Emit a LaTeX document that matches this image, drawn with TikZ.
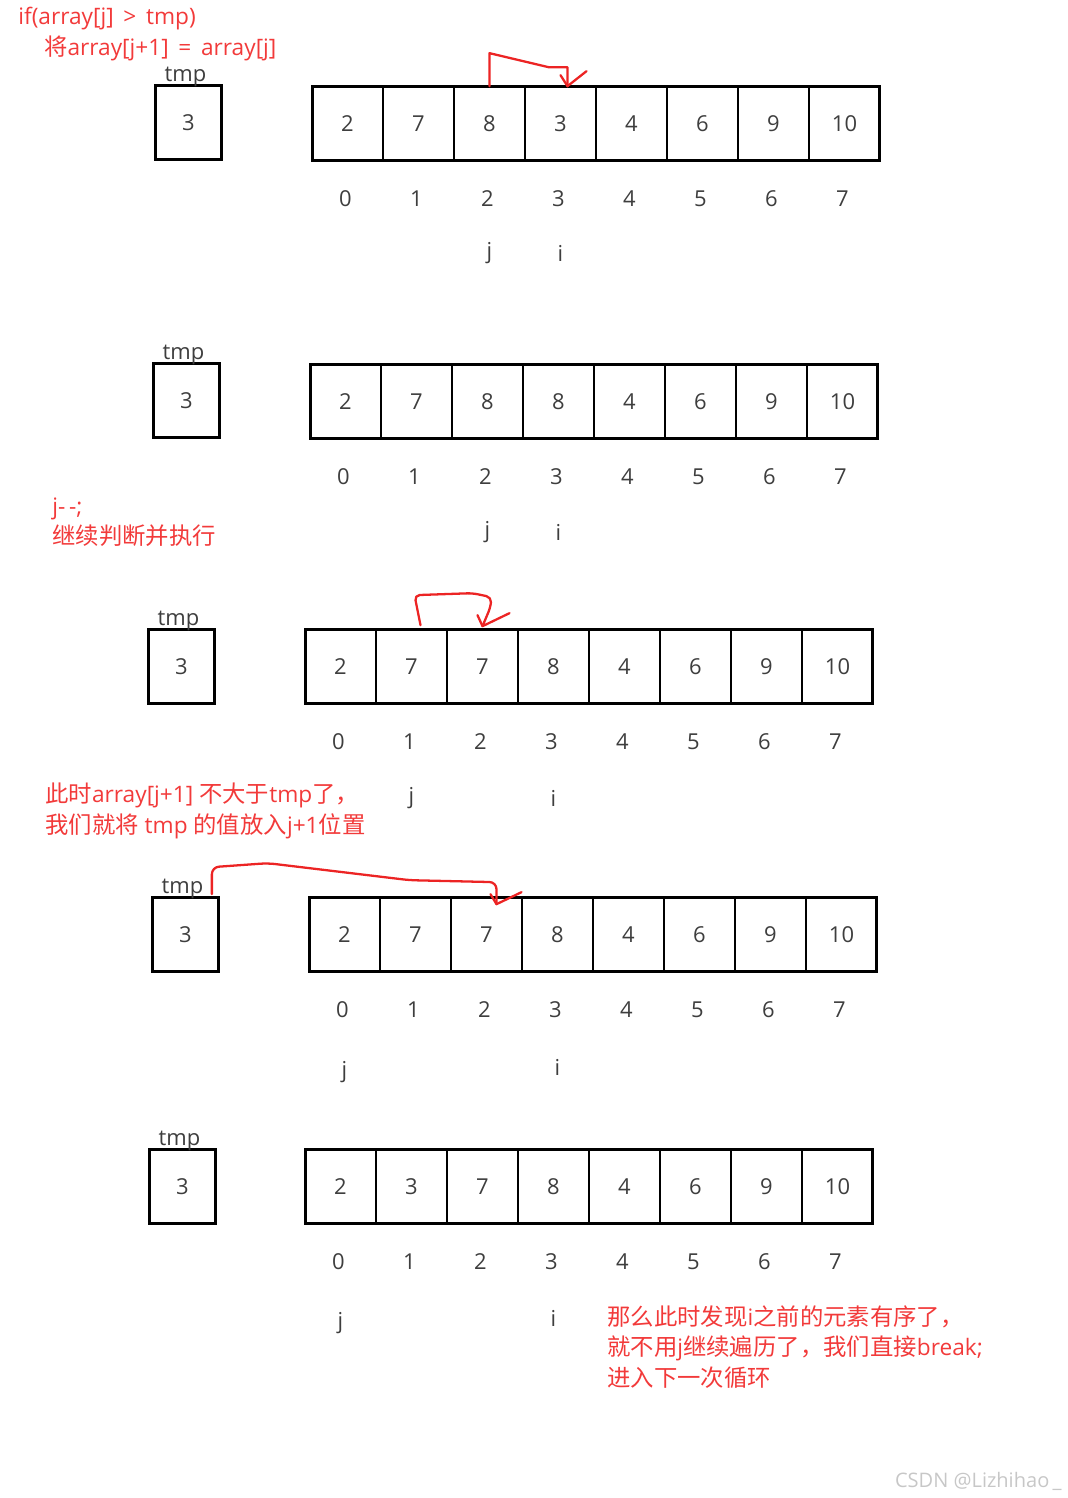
\documentclass[tikz,border=0pt]{standalone}
\usepackage{fontspec}
\setmainfont{Open Sans}
\newfontfamily\cjkfont{Noto Sans CJK SC}
\newcommand\zh[1]{{\cjkfont\fontsize{13.3}{17.4}\selectfont #1}}
\usetikzlibrary{calc}
\definecolor{notered}{RGB}{242,58,58}
\definecolor{pencol}{RGB}{236,36,36}
\definecolor{digitcol}{RGB}{62,62,62}

\begin{document}
\begin{tikzpicture}[
  x=0.02cm, y=-0.02cm,
  cell/.style={draw=black, line width=0.9pt, minimum width=40.25pt,
    minimum height=42.5pt, inner sep=0pt, outer sep=0pt,
    font=\fontsize{12.5}{14}\selectfont, text=digitcol},
  tmpbox/.style={cell, minimum width=38pt},
  frame/.style={line width=1.7pt},
  idx/.style={font=\fontsize{12.5}{14}\selectfont, text=digitcol},
  note/.style={font=\fontsize{12.9}{17.4}\selectfont, text=notered,
    align=left, anchor=west, inner sep=0pt},
  pen/.style={pencol, line width=1.3pt, line cap=round, line join=round}
]
  \useasboundingbox (0,0) rectangle (1068,1498);

  % five states of the array
  \foreach \p/\tx/\ty/\ax/\ay/\vals/\jc/\jy/\ic/\iy in {
      1/155/85/312/86/{2,7,8,3,4,6,9,10}/2/253/3/253,
      2/153/363/310/364/{2,7,8,8,4,6,9,10}/2/532/3/532,
      3/148/629/305/629/{2,7,7,8,4,6,9,10}/1/798/3/798,
      4/152/897/309/897/{2,7,7,8,4,6,9,10}/0/1072/3/1067,
      5/149/1149/305/1149/{2,3,7,8,4,6,9,10}/0/1323/3/1318} {
    \node[tmpbox] (t\p) at (\tx+33.5,\ty+37.5) {3};
    \draw[frame] (t\p.north west) rectangle (t\p.south east);
    \node[idx, anchor=base] (tl\p) at ($(t\p.north)+(-3,-4)$) {tmp};
    \foreach \v [count=\k from 0] in \vals {
      \node[cell] (c\p-\k) at (\ax+35.5+71*\k,\ay+37.5) {\v};
      \node[idx] (n\p-\k) at (\ax+33.5+71*\k,\ay+113) {\k};
    }
    \draw[frame] (c\p-0.north west) rectangle (c\p-7.south east);
    \node[idx] (j\p) at (\ax+35.5+71*\jc,\jy) {j};
    \node[idx] (i\p) at (\ax+35.5+71*\ic,\iy) {i};
  }

  % notes
  \node[note] (note1) at (18,34)
    {if(array[j] \,>\, tmp)\\\hspace*{14.7pt}\zh{将}array[j+1] \,=\, array[j]};
  \node[note] (note2) at (52,522) {j-\,-;\\\zh{继续判断并执行}};
  \node[note] (note3) at (45,811)
    {\zh{此时}array[j+1] \zh{不大于}tmp\zh{了，}\\\zh{我们就将} tmp \zh{的值放入}j+1\zh{位置}};
  \node[note] (note4) at (607,1347)
    {\zh{那么此时发现}i\zh{之前的元素有序了，}\\\zh{就不用}j\zh{继续遍历了，我们直接}break;\\\zh{进入下一次循环}};
  \node[font=\fontsize{11.4}{12}\selectfont, text=black!22, anchor=east,
        inner sep=0pt] (mark) at (1062,1481) {CSDN @Lizhihao\,\_};

  % hand drawn moves
  \coordinate (tip1) at ($(c1-3.north)+(7,0)$);
  \draw[pen] (c1-2.north) -- ++(0,-33) -- ($(c1-3.north)+(-12,-19)$)
    -- ($(c1-3.north)+(7,-19)$) -- (tip1);
  \draw[pen] ($(tip1)+(-7,-11)$) -- (tip1) -- ($(tip1)+(19,-15)$);

  \coordinate (tip3) at ($(c3-2.north)+(0,-3)$);
  \draw[pen, rounded corners=3] ($(c3-1.north)+(9,-4)$) -- ($(c3-1.north)+(3,-34)$)
    -- ($(c3-2.north)+(-10,-36)$) -- ($(c3-2.north)+(9,-32)$)
    -- ($(c3-2.north)+(8,-22)$) -- (tip3);
  \draw[pen] ($(tip3)+(-5,-11)$) -- (tip3) -- ($(tip3)+(27,-13)$);

  \coordinate (tip4) at ($(c4-2.north)+(10,7)$);
  \draw[pen, rounded corners=4] ($(t4.north east)+(-7,-3)$) -- ++(0,-27)
    -- ($(t4.north east)+(49,-34)$) -- ($(c4-1.north)+(-6,-17)$)
    -- ($(c4-2.north)+(10,-15)$) -- (tip4);
  \draw[pen] ($(tip4)+(-6,-10)$) -- (tip4) -- ($(tip4)+(25,-12)$);
\end{tikzpicture}
\end{document}
